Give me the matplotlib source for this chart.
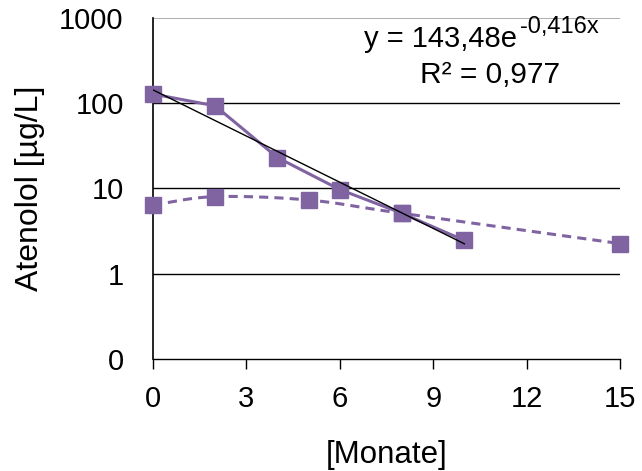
import numpy as np
import matplotlib
matplotlib.use('Agg')
import matplotlib.pyplot as plt

plt.rcParams['font.family'] = ['Liberation Sans', 'DejaVu Sans']

# Messwerte
monate_1 = [0, 2, 4, 6, 8, 10]
atenolol_1 = [128, 93, 23, 9.7, 5.1, 2.45]
monate_2 = [0, 2, 5, 8, 15]
atenolol_2 = [6.4, 8.0, 7.3, 5.1, 2.25]

# Trendlinie (exponentiell)
fit_a = 143.48
fit_b = -0.416
fit_x = [0, 10]

y_ticks = [0.1, 1, 10, 100, 1000]
y_ticklabels = ['0', '1', '10', '100', '1000']
x_ticks = [0, 3, 6, 9, 12, 15]

farbe = '#8064A2'


def glatt(x, y, n=30):
    """Catmull-Rom Glaettung wie in Excel (im log-Raum)"""
    px = np.array(x, dtype=float)
    py = np.log10(np.array(y, dtype=float))
    px = np.concatenate([[2*px[0]-px[1]], px, [2*px[-1]-px[-2]]])
    py = np.concatenate([[2*py[0]-py[1]], py, [2*py[-1]-py[-2]]])
    xs, ys = [], []
    t = np.linspace(0, 1, n)
    for i in range(1, len(px)-2):
        for p, out in ((px, xs), (py, ys)):
            p0, p1, p2, p3 = p[i-1], p[i], p[i+1], p[i+2]
            out.extend(0.5*((2*p1) + (-p0+p2)*t + (2*p0-5*p1+4*p2-p3)*t**2
                            + (-p0+3*p1-3*p2+p3)*t**3))
    return np.array(xs), 10**np.array(ys)


fig = plt.figure(figsize=(6.42, 4.71), dpi=100)
ax = fig.add_axes([0.238, 0.238, 0.728, 0.724])
ax.set_yscale('log')
ax.set_ylim(0.1, 1000)
ax.set_xlim(0, 15)

for v in [1, 10, 100]:
    ax.axhline(v, color='black', lw=1.0, zorder=1)
ax.axhline(1000, color='#A0A0A0', lw=1.2, zorder=1)

gx, gy = glatt(monate_2, atenolol_2)
ax.plot(gx, gy, color=farbe, lw=2.2, ls=(0, (3, 2)), zorder=2, clip_on=False)
ax.plot(monate_2, atenolol_2, 's', color=farbe, ms=11.5, zorder=3, clip_on=False)
ax.plot(monate_1, atenolol_1, '-s', color=farbe, lw=2.2, ms=11.5, zorder=3, clip_on=False)

tx = np.linspace(fit_x[0], fit_x[1], 50)
ax.plot(tx, fit_a*np.exp(fit_b*tx), color='black', lw=1.0, zorder=4)

# Gleichung der Trendlinie
ax.text(0.780, 0.915, 'y = 143,48e', transform=ax.transAxes,
        ha='right', va='baseline', fontsize=21)
ax.text(0.786, 0.955, '-0,416x', transform=ax.transAxes,
        ha='left', va='baseline', fontsize=17)
ax.text(0.722, 0.809, 'R² = 0,977', transform=ax.transAxes,
        ha='center', va='baseline', fontsize=21.5)

ax.set_yticks(y_ticks)
ax.set_yticklabels(y_ticklabels)
ax.yaxis.set_minor_locator(matplotlib.ticker.NullLocator())
ax.set_xticks(x_ticks)
ax.tick_params(axis='y', length=0, pad=21, labelsize=21)
ax.tick_params(axis='x', length=7, width=1, pad=12, labelsize=21)

for s in ['top', 'right']:
    ax.spines[s].set_visible(False)
ax.spines['left'].set_linewidth(1.2)
ax.spines['bottom'].set_linewidth(1.0)

ax.set_xlabel('[Monate]', fontsize=22.5, labelpad=19)
ax.set_ylabel('Atenolol [µg/L]', fontsize=23, labelpad=10)

plt.savefig('out.png', dpi=100)
